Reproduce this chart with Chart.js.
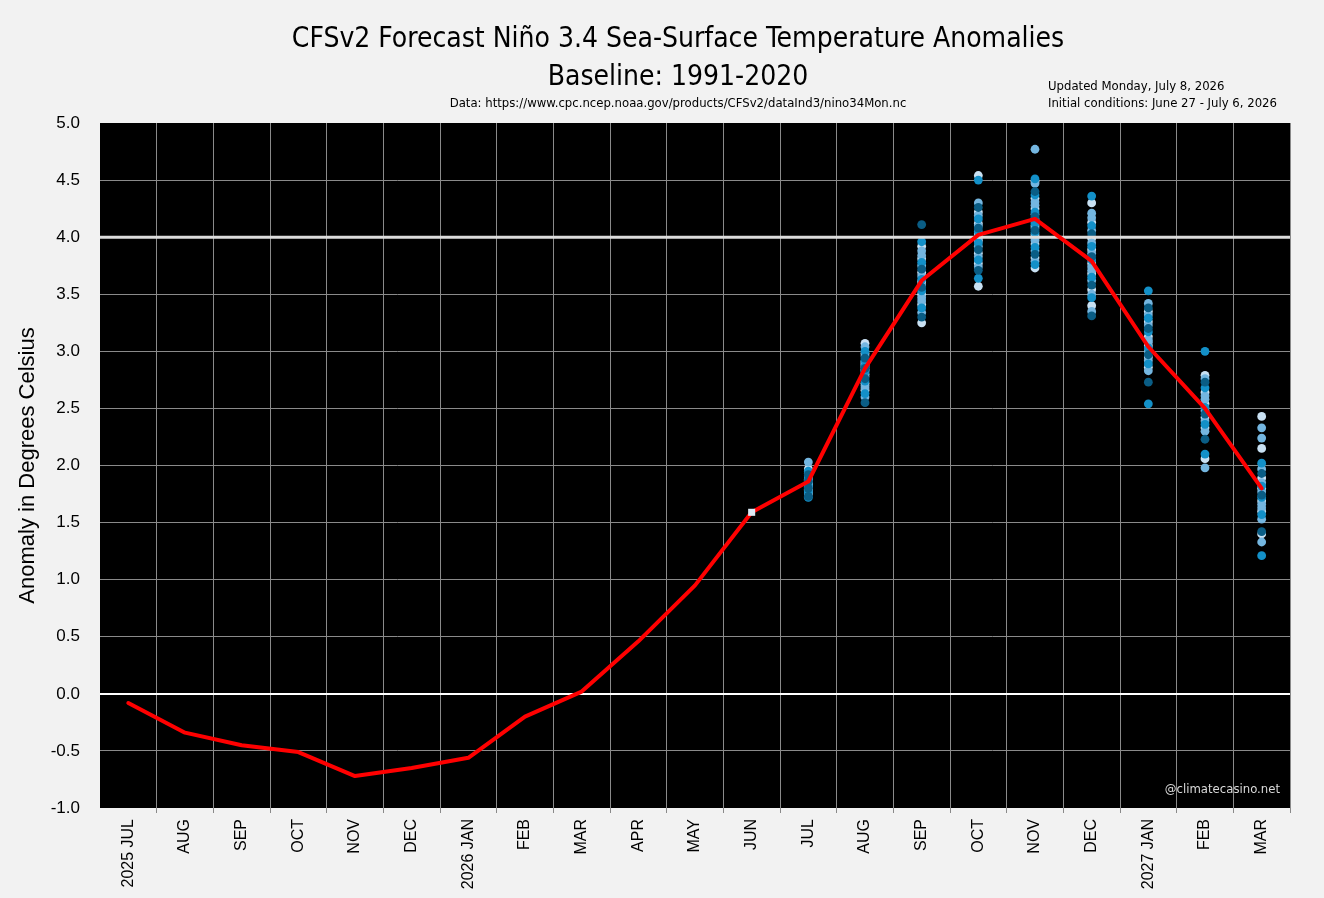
<!DOCTYPE html>
<html><head><meta charset="utf-8">
<script src="https://cdn.jsdelivr.net/npm/chart.js@4.4.1/dist/chart.umd.min.js"></script>
<style>html,body{margin:0;padding:0;background:#f2f2f2;overflow:hidden}#wrap{width:1324px;height:898px;}</style>
</head><body><div id="wrap"><canvas id="c" width="1324" height="898"></canvas></div>
<script>
// ---- data ----
const monthLabels = ['2025 JUL','AUG','SEP','OCT','NOV','DEC','2026 JAN','FEB','MAR','APR','MAY','JUN','JUL','AUG','SEP','OCT','NOV','DEC','2027 JAN','FEB','MAR'];
const ensembleMean = [-0.08,-0.34,-0.45,-0.51,-0.72,-0.65,-0.56,-0.20,0.02,0.46,0.95,1.59,1.86,2.85,3.62,4.02,4.16,3.79,3.04,2.50,1.80];
const yMin = -1.0, yMax = 5.0, yStep = 0.5;
const thresholdValue = 4.0;
const zeroValue = 0.0;

const ensJun26 = [1.59];
const ensJul26 = [2.03,1.97,1.95,1.93,1.92,1.91,1.90,1.89,1.88,1.87,1.86,1.86,1.85,1.84,1.83,1.83,1.82,1.81,1.80,1.79,1.78,1.77,1.76,1.75,1.73,1.72];
const ensAug26 = [3.07,3.04,3.00,2.98,2.96,2.94,2.92,2.91,2.90,2.89,2.88,2.87,2.86,2.85,2.84,2.83,2.82,2.80,2.78,2.76,2.74,2.72,2.70,2.68,2.66,2.63,2.60,2.55];
const ensSep26 = [4.11,3.96,3.92,3.88,3.84,3.81,3.78,3.75,3.72,3.69,3.66,3.63,3.61,3.58,3.56,3.53,3.50,3.47,3.44,3.41,3.38,3.34,3.30,3.25];
const ensOct26 = [4.54,4.50,4.30,4.26,4.22,4.19,4.16,4.12,4.10,4.08,4.05,4.03,4.01,3.99,3.97,3.95,3.92,3.89,3.86,3.83,3.80,3.77,3.74,3.71,3.64,3.57];
const ensNov26 = [4.77,4.51,4.49,4.47,4.40,4.37,4.34,4.31,4.28,4.25,4.22,4.20,4.18,4.16,4.14,4.12,4.10,4.08,4.06,4.04,4.02,3.99,3.97,3.94,3.91,3.88,3.85,3.82,3.79,3.76,3.73];
const ensDec26 = [4.36,4.30,4.21,4.17,4.13,4.10,4.06,4.03,3.99,3.95,3.92,3.89,3.86,3.83,3.80,3.77,3.74,3.71,3.68,3.65,3.62,3.58,3.54,3.50,3.47,3.40,3.35,3.31];
const ensJan27 = [3.53,3.42,3.38,3.35,3.32,3.29,3.26,3.23,3.20,3.17,3.13,3.10,3.08,3.05,3.03,3.00,2.97,2.95,2.92,2.89,2.86,2.83,2.73,2.54];
const ensFeb27 = [3.00,2.79,2.76,2.73,2.68,2.64,2.61,2.58,2.54,2.51,2.48,2.45,2.42,2.39,2.36,2.33,2.30,2.23,2.10,2.06,1.98];
const ensMar27 = [2.43,2.33,2.24,2.15,2.02,1.97,1.93,1.89,1.85,1.82,1.80,1.77,1.74,1.72,1.69,1.66,1.63,1.60,1.57,1.53,1.42,1.40,1.33,1.21];
const ensembleMonthIndex = [12,13,14,15,16,17,18,19,20];
const junMonthIndex = 11;

// ---- build datasets ----
const ensembleByMonth = [ensJul26,ensAug26,ensSep26,ensOct26,ensNov26,ensDec26,ensJan27,ensFeb27,ensMar27];
const shades = ['#0a5d85','#1390c8','#74b6e0','#c9e1f3'];
const shadeCycle = [2,3,1,2,0,3,2,1,3,2,0,1,3,2];
const shadeData = shades.map(() => []);
ensembleByMonth.forEach((vals, k) => {
  const idx = ensembleMonthIndex[k];
  vals.forEach((v, i) => { shadeData[shadeCycle[(i + k * 5) % shadeCycle.length]].push({x: idx, y: v}); });
});

const dotDatasets = shades.map((c, s) => ({
  type: 'line', xAxisID: 'xe', data: shadeData[s], showLine: false,
  pointRadius: 4.4, pointHoverRadius: 4.4, pointBorderWidth: 0,
  pointBackgroundColor: c, borderColor: c, order: 3 + s
}));

const titleFont = "'Liberation Sans Narrow','DejaVu Sans Condensed',Roboto,sans-serif";

const bgPlugin = {
  id: 'bg',
  beforeDraw(chart) {
    const {ctx, chartArea: a} = chart;
    ctx.save(); ctx.fillStyle = '#000'; ctx.fillRect(a.left, a.top, a.right - a.left, a.bottom - a.top); ctx.restore();
  },
  beforeDatasetDraw(chart, args) {
    if (chart.data.datasets[args.index].id === 'mean') {
      const {ctx, chartArea: a, scales: {y}} = chart;
      const py = y.getPixelForValue(thresholdValue);
      ctx.save(); ctx.strokeStyle = '#dcdcdc'; ctx.lineWidth = 3;
      ctx.beginPath(); ctx.moveTo(a.left, py); ctx.lineTo(a.right, py); ctx.stroke(); ctx.restore();
    }
  },
  afterDraw(chart) {
    const {ctx, chartArea: a} = chart;
    ctx.save();
    ctx.fillStyle = '#000'; ctx.textAlign = 'center'; ctx.textBaseline = 'alphabetic';
    ctx.font = "28px " + titleFont;
    ctx.fillText('CFSv2 Forecast Niño 3.4 Sea-Surface Temperature Anomalies', 678, 47);
    ctx.fillText('Baseline: 1991-2020', 678, 85);
    ctx.font = "13px " + titleFont;
    ctx.textBaseline = 'middle';
    ctx.fillText('Data: https://www.cpc.ncep.noaa.gov/products/CFSv2/dataInd3/nino34Mon.nc', 678, 104);
    ctx.textAlign = 'left';
    ctx.fillText('Updated Monday, July 8, 2026', 1048, 87);
    ctx.fillText('Initial conditions: June 27 - July 6, 2026', 1048, 104);
    ctx.textAlign = 'right'; ctx.fillStyle = '#d9d9d9';
    ctx.fillText('@climatecasino.net', a.right - 10, a.bottom - 18);
    ctx.restore();
  }
};

const lastIdx = monthLabels.length;
new Chart(document.getElementById('c'), {
  type: 'line',
  data: {
    labels: monthLabels,
    datasets: [
      ...dotDatasets,
      { id: 'mean', type: 'line', xAxisID: 'x', data: ensembleMean, borderColor: '#ff0000', borderWidth: 4,
        pointRadius: 0, tension: 0, fill: false, order: 2, borderJoinStyle: 'round', borderCapStyle: 'round' },
      { type: 'line', xAxisID: 'xe', data: ensJun26.map(v => ({x: junMonthIndex, y: v})), showLine: false,
        pointRadius: 5, pointStyle: 'rect', pointBorderWidth: 0, pointBackgroundColor: '#dbe9f5', order: 1 }
    ]
  },
  options: {
    responsive: false, animation: false, devicePixelRatio: 1,
    layout: { padding: { top: 123, right: 34, left: 0, bottom: 0 } },
    plugins: { legend: { display: false }, tooltip: { enabled: false } },
    scales: {
      x: {
        type: 'category', offset: true,
        grid: { offset: true, tickLength: 5,
          color: c => (c.index === 0 || c.index === lastIdx) ? 'rgba(0,0,0,0)' : '#8a8a8a', lineWidth: 1 },
        border: { display: false },
        ticks: { color: '#000', font: { family: "'Liberation Sans',Arial,sans-serif", size: 16 },
          maxRotation: 90, minRotation: 90, padding: 6, autoSkip: false },
        afterFit(s) { s.height = 90; }
      },
      xe: { type: 'linear', display: false, min: -0.5, max: monthLabels.length - 0.5 },
      y: {
        min: yMin, max: yMax,
        grid: {
          drawTicks: false,
          color: c => {
            if (!c.tick) return '#8a8a8a';
            if (c.tick.value === zeroValue) return '#ffffff';
            if (c.tick.value === yMin || c.tick.value === yMax) return 'rgba(0,0,0,0)';
            return '#8a8a8a';
          },
          lineWidth: c => c.tick && c.tick.value === zeroValue ? 2 : 1
        },
        border: { display: false },
        ticks: { stepSize: yStep, color: '#000', padding: 20,
          font: { family: "'Liberation Sans',Arial,sans-serif", size: 17 },
          callback: v => Number(v).toFixed(1) },
        title: { display: true, text: 'Anomaly in Degrees Celsius', color: '#000',
          font: { family: "'Liberation Sans',Arial,sans-serif", size: 22 }, padding: { top: 15, bottom: 0 } },
        afterFit(s) { s.width = 100; }
      }
    }
  },
  plugins: [bgPlugin]
});
</script></body></html>
